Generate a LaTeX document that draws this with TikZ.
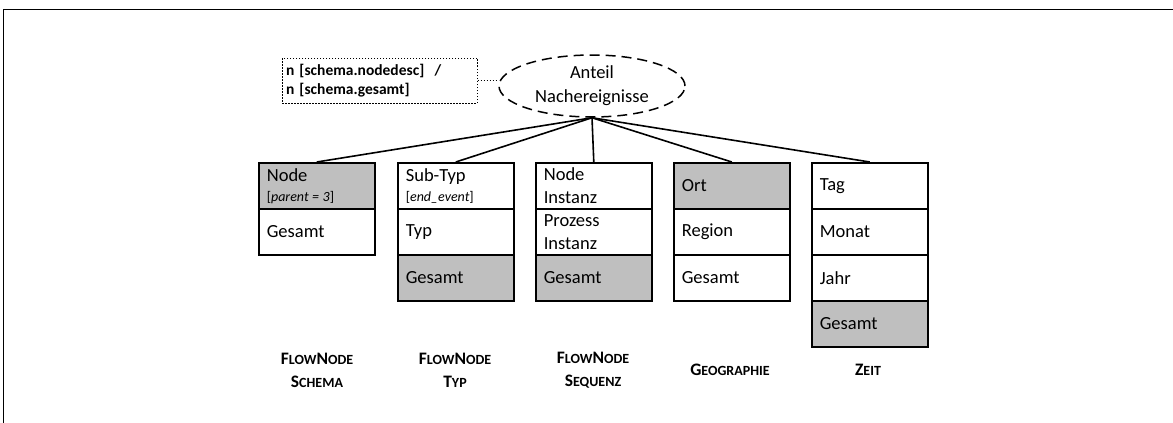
\documentclass[tikz,border=0pt]{standalone}
\usepackage{fontspec}
\setmainfont{Carlito}
\usetikzlibrary{shapes.geometric}
\newcommand\fsc[1]{{\fontsize{14}{16}\selectfont #1}}
\newcommand\smallnote[1]{{\fontsize{14}{15}\selectfont #1}}
\begin{document}
\begin{tikzpicture}[x=1pt,y=-1pt,
  cell/.style={draw, line width=1.6pt, minimum width=116pt, minimum height=46pt,
    text width=100pt, inner xsep=8pt, inner ysep=0pt, align=left, anchor=north west,
    font=\fontsize{18.5}{23}\selectfont},
  grey/.style={fill=black!25},
  conn/.style={line width=1.6pt},
  lab/.style={font=\bfseries\fontsize{17.5}{23}\selectfont, align=center},
  notebox/.style={draw, line width=1pt, dash pattern=on 1.5pt off 1.5pt, minimum width=195pt,
    minimum height=45pt, text width=187pt, inner xsep=4pt, align=left,
    font=\bfseries\fontsize{15.5}{19}\selectfont},
  dimen/.style={draw, ellipse, dash pattern=on 10pt off 6pt, line width=1.5pt,
    minimum width=186pt, minimum height=62pt, align=center, inner sep=0pt,
    font=\fontsize{18.5}{24}\selectfont}
]
\useasboundingbox (0,0) rectangle (1173,423);
% frame
\draw[line width=1.5pt] (3,9.5) -- (1173,9.5);
\draw[line width=0.8pt] (3,9.5) -- (3,423);

\node[dimen] (anteil) at (592,86) {Anteil\\Nachereignisse};
\node[notebox] (note) at (379.5,80.5) {n [schema.nodedesc]~~/\\n [schema.gesamt]};
\draw[line width=1pt, dash pattern=on 1.5pt off 1.5pt] (note.east) -- (note.east -| anteil.west);

% column 1
\node[cell,grey] (c1a) at (258,162) {Node\\[-3pt]\smallnote{[\textit{parent\hspace{3.5pt}=\hspace{3.5pt}3}]}};
\node[cell] (c1b) at (258,208) {Gesamt};
% column 2
\node[cell] (c2a) at (397,162) {Sub-Typ\\[-3pt]\smallnote{[\textit{end\_event}]}};
\node[cell] (c2b) at (397,208) {Typ};
\node[cell,grey] (c2c) at (397,254) {Gesamt};
% column 3
\node[cell] (c3a) at (535,162) {Node\\Instanz};
\node[cell] (c3b) at (535,208) {Prozess\\Instanz};
\node[cell,grey] (c3c) at (535,254) {Gesamt};
% column 4
\node[cell,grey] (c4a) at (673,162) {Ort};
\node[cell] (c4b) at (673,208) {Region};
\node[cell] (c4c) at (673,254) {Gesamt};
% column 5
\node[cell] (c5a) at (811,162) {Tag};
\node[cell] (c5b) at (811,208) {Monat};
\node[cell] (c5c) at (811,254) {Jahr};
\node[cell,grey] (c5d) at (811,300) {Gesamt};

% connectors
\foreach \c in {c1a,c2a,c3a,c4a,c5a}{
  \draw[conn] (anteil.south) -- (\c.north);
}

% labels
\node[lab] (l1) at (317,370) {F\fsc{LOW}N\fsc{ODE}\\S\fsc{CHEMA}};
\node[lab] (l2) at (455,370) {F\fsc{LOW}N\fsc{ODE}\\T\fsc{YP}};
\node[lab] (l3) at (593,370) {F\fsc{LOW}N\fsc{ODE}\\S\fsc{EQUENZ}};
\node[lab] (l4) at (730,370) {G\fsc{EOGRAPHIE}};
\node[lab] (l5) at (868,370) {Z\fsc{EIT}};
\end{tikzpicture}
\end{document}
